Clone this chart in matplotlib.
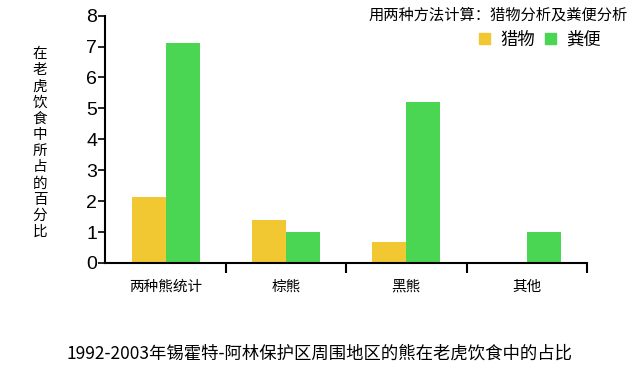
import matplotlib.pyplot as plt
from matplotlib.patches import Patch
import numpy as np

plt.rcParams['font.family'] = ['Noto Sans CJK SC', 'DejaVu Sans']

categories = ['两种熊统计', '棕熊', '黑熊', '其他']
prey = [2.15, 1.4, 0.68, 0]        # 猎物分析
scat = [7.1, 1.0, 5.2, 1.0]        # 粪便分析
y_ticks = [0, 1, 2, 3, 4, 5, 6, 7, 8]

yellow = '#F1C832'
green = '#4AD552'

fig = plt.figure(figsize=(6.4, 3.73), dpi=100)
ax = fig.add_axes([0.1648, 0.295, 0.7522, 0.663])

x = np.arange(len(categories))
w = 0.283
ax.bar(x - w / 2, prey, w, color=yellow)
ax.bar(x + w / 2, scat, w, color=green)

ax.set_xlim(-0.5, 3.5)
ax.set_ylim(0, 8)
ax.set_yticks(y_ticks)
ax.set_yticklabels([str(v) for v in y_ticks], family='Liberation Sans', fontsize=14)
ax.set_xticks(x)
ax.set_xticklabels(categories, fontsize=10.5)
ax.tick_params(axis='x', length=0, pad=12)
ax.set_xticks(x + 0.5, minor=True)
ax.tick_params(axis='x', which='minor', length=7, width=1.5)
ax.tick_params(axis='y', length=5, width=1.2, pad=1)

for s in ['top', 'right']:
    ax.spines[s].set_visible(False)
for s in ['left', 'bottom']:
    ax.spines[s].set_linewidth(1.5)

# vertical y label, one character per line
ylabel = '在老虎饮食中所占的百分比'
fig.text(40 / 640, 1 - 143 / 373, '\n'.join(ylabel), ha='center', va='center',
         fontsize=10.5, linespacing=1.2)

fig.text(628 / 640, 1 - 15 / 373, '用两种方法计算：猎物分析及粪便分析',
         ha='right', va='center', fontsize=11)

handles = [Patch(color=yellow, label='猎物'), Patch(color=green, label='粪便')]
fig.legend(handles=handles, loc='center right', bbox_to_anchor=(601 / 640, 1 - 40 / 373),
           ncol=2, frameon=False, fontsize=12.5, handlelength=0.6, handleheight=0.6,
           handletextpad=0.6, columnspacing=0.6, borderpad=0, borderaxespad=0)

fig.text(0.5, 1 - 354 / 373, '1992-2003年锡霍特-阿林保护区周围地区的熊在老虎饮食中的占比',
         ha='center', va='center', fontsize=12.5)

fig.savefig('out.png', dpi=100)
